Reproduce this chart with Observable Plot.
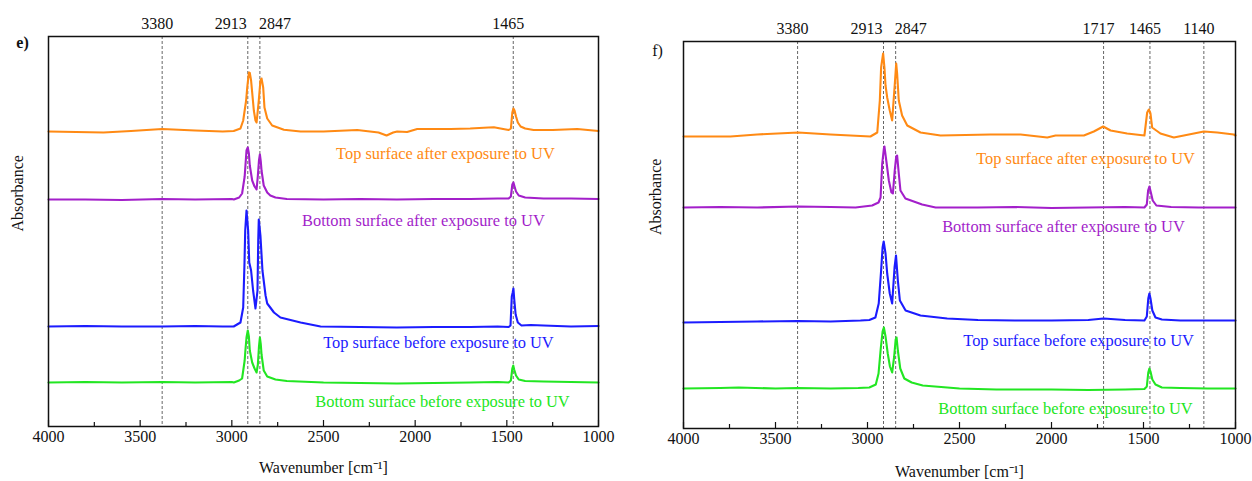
<!DOCTYPE html>
<html><head><meta charset="utf-8">
<script src="https://cdn.jsdelivr.net/npm/d3@7"></script>
<script src="https://cdn.jsdelivr.net/npm/@observablehq/plot@0.6"></script>
<style>
body{margin:0;background:#fff}
#wrap{position:relative;width:1252px;height:481px;background:#fff}
.panel{position:absolute;top:0}
</style>
</head><body>
<div id="wrap"><div id="pe" class="panel" style="left:0"></div><div id="pf" class="panel" style="left:630px"></div></div>
<script>
// ---- data ----
const majorTicks = [4000, 3500, 3000, 2500, 2000, 1500, 1000];
const minorTicks = [3750, 3250, 2750, 2250, 1750, 1250];
// marker lines: position where each dashed line is drawn in the picture, and its label
const peaksE = [3380, 2913, 2847, 1465];
const peakLabelsE = ["3380", "2913", "2847", "1465"];
const peaksF = [3380, 2913, 2847, 1717, 1465, 1172];
const peakLabelsF = ["3380", "2913", "2847", "1717", "1465", "1140"];
const seriesNames = [
  "Top surface after exposure to UV",
  "Bottom surface after exposure to UV",
  "Top surface before exposure to UV",
  "Bottom surface before exposure to UV"
];

// panel e) spectra: [wavenumber, absorbance (arbitrary, stacked)]
const eTopAfter = [[4000,295],[3850,294.5],[3700,294],[3550,295.5],[3380,297.5],[3200,296],[3050,295],[2990,295.5],[2953,298],[2938,306],[2922,326],[2916,339],[2907,354],[2902,353.5],[2895,346],[2880,316],[2871,306],[2865,304],[2853,326],[2844,346],[2838,348],[2829,339],[2822,319],[2807,308],[2780,301],[2716,296.7],[2625,295],[2500,295],[2316,296.5],[2200,294],[2156,291],[2120,294],[2098,295],[2044,294.5],[1989,297.5],[1900,297.5],[1807,297.5],[1700,298],[1600,299],[1571,299.3],[1520,297.5],[1490,296.5],[1478,298],[1470,314],[1464,318],[1458,316],[1450,310],[1440,304],[1425,300],[1400,298],[1354,296.5],[1250,296.5],[1116,297.5],[1000,295.5]];
const eBottomAfter = [[4000,227],[3800,227],[3600,226.5],[3380,227.5],[3200,227],[3000,227.5],[2989,227],[2960,229],[2944,233],[2930,250],[2925,263],[2920,276],[2913,279],[2907,273],[2902,261],[2889,246],[2876,240],[2865,237],[2858,251],[2852,266],[2847,272],[2842,265],[2838,256],[2826,241],[2807,234],[2790,231],[2762,229],[2700,227.5],[2500,227],[2300,227.5],[2100,227],[1900,227.5],[1700,227.5],[1550,228],[1490,228],[1478,230],[1470,242],[1464,244],[1458,240],[1450,235],[1435,231],[1400,229],[1300,228],[1150,228],[1000,227.5]];
const eTopBefore = [[4000,100],[3800,100.5],[3600,100],[3380,100],[3200,100.5],[3050,100],[2990,100],[2953,104],[2938,119],[2931,163],[2927,196],[2920,216],[2911,196],[2905,164],[2895,156],[2884,136],[2871,118],[2860,136],[2856,186],[2853,207],[2844,191],[2833,156],[2816,131],[2807,123],[2770,114],[2735,109],[2625,104],[2516,100],[2300,99.5],[2100,99],[1900,99.5],[1700,99.5],[1550,100],[1490,99.5],[1480,101],[1473,130],[1468,134],[1464,138],[1460,128],[1452,112],[1440,104],[1420,101],[1370,101.5],[1300,101],[1150,100],[1000,100.5]];
const eBottomBefore = [[4000,44],[3800,44.5],[3600,44],[3380,44.5],[3200,44],[3000,44.5],[2989,44],[2960,46],[2944,48],[2930,66],[2926,76],[2920,89],[2913,96],[2907,90],[2902,76],[2889,64],[2876,58],[2865,54],[2858,62],[2852,80],[2847,89],[2842,82],[2838,72],[2826,56],[2807,50],[2762,47],[2700,45.5],[2500,44],[2300,43.5],[2100,43],[1900,43.5],[1700,44],[1550,44.5],[1490,44],[1478,46],[1470,58],[1465,61],[1460,57],[1450,51],[1435,47],[1400,45.5],[1300,45],[1150,44.5],[1000,44]];

// panel f) spectra
const fTopAfter = [[4000,292],[3745,292],[3600,294],[3377,296],[3201,294],[2984,292],[2947,296],[2933,328],[2926,361],[2915,375],[2908,361],[2902,343],[2893,331],[2879,318],[2866,308],[2853,341],[2844,365],[2839,355],[2830,328],[2812,313],[2784,303],[2712,296],[2603,293],[2332,294],[2168,294],[2023,291],[1978,293],[1824,293],[1770,297],[1719,302],[1679,298],[1589,295],[1495,293],[1480,316],[1471,319],[1462,315],[1453,301],[1408,295],[1335,291],[1172,297],[1099,296],[1009,294],[1000,293]];
const fBottomAfter = [[4000,221],[3800,221.5],[3600,221],[3380,222],[3200,221.5],[3065,221],[2975,223],[2940,226],[2929,231],[2920,265],[2911,280],[2908,282],[2898,268],[2884,248],[2870,236],[2862,235],[2852,258],[2844,272],[2839,273],[2830,255],[2821,238],[2794,230],[2703,224],[2630,221],[2400,221],[2200,221.5],[2000,220.5],[1800,221],[1600,221.5],[1495,221],[1482,224],[1475,238],[1468,242],[1460,236],[1450,228],[1430,223],[1350,221.5],[1200,221],[1000,221]];
const fTopBefore = [[4000,106],[3800,106.5],[3600,107],[3380,107.5],[3200,107],[3038,108],[2990,108.5],[2957,111],[2939,125],[2926,158],[2918,181],[2912,187],[2902,175],[2893,155],[2879,135],[2866,125],[2853,161],[2845,173],[2835,148],[2824,128],[2793,118],[2712,113],[2567,110],[2400,108.5],[2200,108],[2000,108],[1800,108.5],[1717,110],[1600,108.5],[1495,108],[1482,112],[1474,130],[1468,135],[1462,130],[1452,118],[1435,111],[1400,109],[1300,108],[1150,108],[1000,108]];
const fBottomBefore = [[4000,40],[3800,40.5],[3700,41],[3500,40],[3380,40.5],[3200,40],[3050,40.5],[2990,41],[2955,44],[2940,55],[2928,80],[2918,97],[2911,101],[2902,92],[2890,75],[2878,62],[2866,56],[2855,72],[2847,89],[2842,91],[2835,78],[2822,60],[2800,50],[2760,46],[2700,43],[2500,40],[2300,39],[2000,39],[1800,38.5],[1600,39],[1495,39.5],[1482,42],[1474,56],[1468,60],[1462,57],[1452,49],[1435,44],[1400,41],[1300,40.5],[1150,40],[1000,40]];

// label anchors (wavenumber, absorbance units)
const labelAnchorsE = [[1835,273],[1955,206],[1873,84],[1851,25]];
const labelAnchorsF = [[1815,270],[1935,202],[1853,88],[1924,20]];

const colors = ["#ff8a14", "#a31fca", "#1c1cff", "#22e622"];
const font = "'Liberation Serif', 'Times New Roman', serif";

// horizontal nudge of the peak labels so the two close ones do not collide
const peakLabelDx = label => label === "2913" ? -17 : label === "2847" ? 15 : -5;

function panel({curves, peaks, peakLabels, anchors, yMax, tag, tagBold, width, marginLeft, marginRight, marginTop, marginBottom, yLabelDx, xLabelDy, tagDy}) {
  return Plot.plot({
    width, height: 481, marginLeft, marginRight, marginTop, marginBottom,
    style: {fontFamily: font, fontSize: "16px", background: "transparent", color: "#111"},
    x: {domain: [4000, 1000]},
    y: {domain: [0, yMax], axis: null},
    marks: [
      Plot.ruleX(peaks, {x: d => d, stroke: "#555", strokeWidth: 0.9, strokeDasharray: "3,2"}),
      ...curves.map((c, i) => Plot.line(c, {x: d => d[0], y: d => d[1], stroke: colors[i], strokeWidth: 2.1, curve: "linear"})),
      ...seriesNames.map((s, i) => Plot.text([s], {x: anchors[i][0], y: anchors[i][1], text: d => d, fill: colors[i], fontSize: 16.4})),
      Plot.ruleX(majorTicks, {x: d => d, y1: 0, y2: 6, stroke: "#111", strokeWidth: 1.2}),
      Plot.ruleX(minorTicks, {x: d => d, y1: 0, y2: 4, stroke: "#111", strokeWidth: 1.2}),
      Plot.axisX(majorTicks, {tickSize: 0, tickPadding: 4, fontSize: 16, label: null, tickFormat: d => String(d)}),
      ...peaks.map((p, i) => Plot.text([peakLabels[i]], {x: p, frameAnchor: "top", lineAnchor: "middle", dy: -13, dx: peakLabelDx(peakLabels[i]), text: d => d, fontSize: 16})),
      Plot.frame({stroke: "#111", strokeWidth: 1.5}),
      Plot.text(["Absorbance"], {frameAnchor: "left", lineAnchor: "middle", rotate: -90, dx: yLabelDx, text: d => d, fontSize: 16}),
      Plot.text(["Wavenumber [cm⁻¹]"], {frameAnchor: "bottom", lineAnchor: "middle", dy: xLabelDy, text: d => d, fontSize: 16}),
      Plot.text([tag], {frameAnchor: "top-left", lineAnchor: "middle", textAnchor: "middle", dx: -26, dy: tagDy, text: d => d, fontSize: 16, fontWeight: tagBold ? "bold" : "normal"})
    ]
  });
}

document.getElementById("pe").appendChild(panel({
  curves: [eTopAfter, eBottomAfter, eTopBefore, eBottomBefore],
  peaks: peaksE, peakLabels: peakLabelsE, anchors: labelAnchorsE, yMax: 390, tag: "e)", tagBold: true,
  width: 630, marginLeft: 48, marginRight: 32, marginTop: 36, marginBottom: 55,
  yLabelDx: -31, xLabelDy: 41, tagDy: 6
}));
document.getElementById("pf").appendChild(panel({
  curves: [fTopAfter, fBottomAfter, fTopBefore, fBottomBefore],
  peaks: peaksF, peakLabels: peakLabelsF, anchors: labelAnchorsF, yMax: 387, tag: "f)", tagBold: false,
  width: 622, marginLeft: 53, marginRight: 17, marginTop: 41, marginBottom: 53,
  yLabelDx: -28, xLabelDy: 43, tagDy: 9
}));
</script>
</body></html>
